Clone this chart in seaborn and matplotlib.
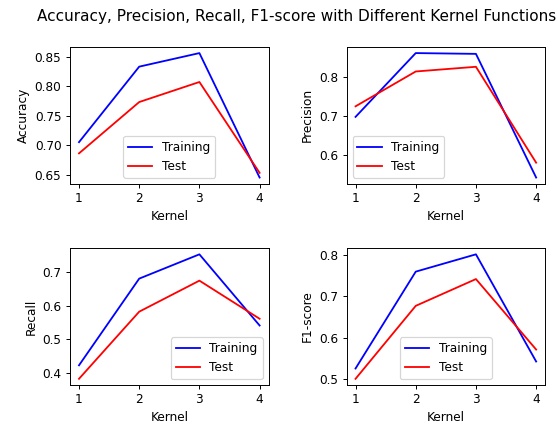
import matplotlib
matplotlib.use("Agg")
import matplotlib.pyplot as plt
import seaborn as sns

kernels = [1, 2, 3, 4]

acc_train = [0.705, 0.833, 0.856, 0.645]
acc_test = [0.686, 0.773, 0.807, 0.653]
prec_train = [0.697, 0.860, 0.858, 0.542]
prec_test = [0.724, 0.813, 0.825, 0.580]
rec_train = [0.423, 0.680, 0.752, 0.541]
rec_test = [0.383, 0.582, 0.674, 0.561]
f1_train = [0.525, 0.760, 0.802, 0.542]
f1_test = [0.500, 0.677, 0.742, 0.571]

metrics = [
    ("Accuracy", acc_train, acc_test, "lower center"),
    ("Precision", prec_train, prec_test, "lower left"),
    ("Recall", rec_train, rec_test, "lower right"),
    ("F1-score", f1_train, f1_test, "lower center"),
]

dpi = 558 / 6.4
fig, axes = plt.subplots(2, 2, figsize=(6.4, 426 / dpi), dpi=dpi)
fig.subplots_adjust(left=0.1254, right=0.977, top=0.890, bottom=0.0962,
                    wspace=0.392, hspace=0.47)

for ax, (name, tr, te, loc) in zip(axes.flat, metrics):
    sns.lineplot(x=kernels, y=tr, color="blue", label="Training", ax=ax)
    sns.lineplot(x=kernels, y=te, color="red", label="Test", ax=ax)
    ax.set_xlabel("Kernel")
    ax.set_ylabel(name)
    ax.set_xticks(kernels)
    ax.legend(loc=loc)

fig.suptitle("Accuracy, Precision, Recall, F1-score with Different Kernel Functions",
             x=0.532, fontsize=12.6)
fig.savefig("out.png", dpi=dpi)
